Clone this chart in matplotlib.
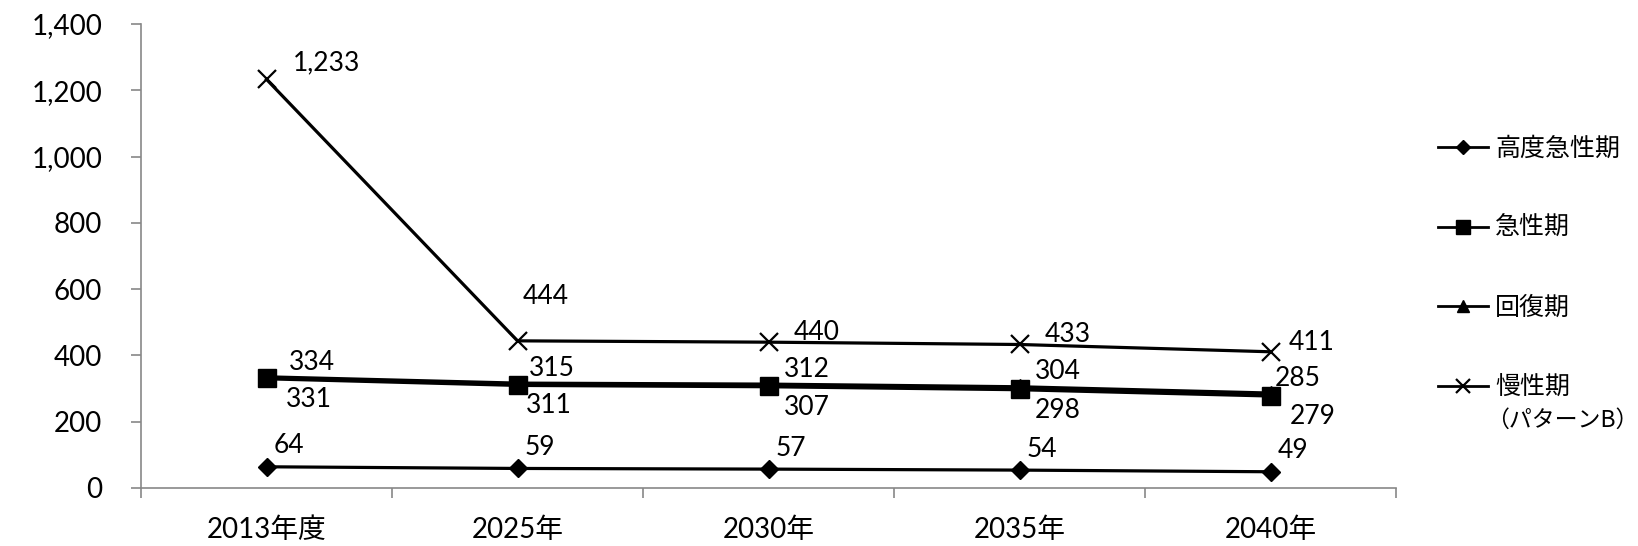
import numpy as np
import matplotlib
matplotlib.use("Agg")
import matplotlib.pyplot as plt

plt.rcParams['font.family'] = ['Lato', 'Noto Sans CJK JP', 'DejaVu Sans']

# data
categories = ["2013年度", "2025年", "2030年", "2035年", "2040年"]
koudo = [64, 59, 57, 54, 49]          # 高度急性期
kyusei = [331, 311, 307, 298, 279]    # 急性期
kaifuku = [334, 315, 312, 304, 285]   # 回復期
mansei = [1233, 444, 440, 433, 411]   # 慢性期（パターンB）
y_ticks = [0, 200, 400, 600, 800, 1000, 1200, 1400]

gray = "#878787"

fig = plt.figure(figsize=(16.38, 5.46), dpi=100)
ax = fig.add_axes([141 / 1638, 1 - 488 / 546, 1255 / 1638, 464 / 546])

x = np.arange(len(categories))

ax.plot(x, koudo, color="black", lw=2.3, marker="D", ms=9, zorder=3, label="高度急性期")
ax.plot(x, kaifuku, color="black", lw=3, marker="^", ms=11, zorder=3, label="回復期")
ax.plot(x, kyusei, color="black", lw=3, marker="s", ms=13, zorder=4, label="急性期")
ax.plot(x, mansei, color="black", lw=2.3, marker="x", ms=13, mew=1.6, zorder=3, label="慢性期")

# data labels, offsets in points
def put_labels(vals, dx, dy, fmt="{:,}"):
    for i, v in enumerate(vals):
        ox = dx[i] if isinstance(dx, list) else dx
        oy = dy[i] if isinstance(dy, list) else dy
        ax.annotate(fmt.format(v), (x[i], v), xytext=(ox, oy), textcoords="offset points",
                    ha="left", va="center", fontsize=19, zorder=6)

put_labels(koudo, 5, 15)
put_labels(kaifuku, [16, 8, 11, 11, 3], 11)
put_labels(kyusei, [14, 6, 11, 11, 14], -15)
put_labels(mansei, [19, 4, 18, 18, 13], [12, 32, 7, 7, 7])

ax.set_xlim(-0.5, len(categories) - 0.5)
ax.set_ylim(0, 1400)
ax.set_yticks(y_ticks)
ax.set_yticklabels([f"{t:,}" for t in y_ticks])
ax.set_xticks(x)
ax.set_xticklabels(categories)
ax.set_xticks(np.arange(len(categories) + 1) - 0.5, minor=True)

ax.tick_params(axis="y", direction="out", length=7, width=1.2, color=gray, pad=21, labelsize=20)
ax.tick_params(axis="x", which="major", length=0, pad=21, labelsize=20)
ax.tick_params(axis="x", which="minor", direction="out", length=7, width=1.2, color=gray)

for s in ["top", "right"]:
    ax.spines[s].set_visible(False)
for s in ["left", "bottom"]:
    ax.spines[s].set_color(gray)
    ax.spines[s].set_linewidth(1.2)

# legend order as in the reference
h, l = ax.get_legend_handles_labels()
order = [0, 2, 1, 3]
leg = ax.legend([h[i] for i in order], [l[i] for i in order],
                loc="upper left", bbox_to_anchor=(1425 / 1638, 1 - 123 / 546),
                bbox_transform=fig.transFigure, frameon=False,
                prop={"family": ["Noto Sans CJK JP"], "size": 18},
                labelspacing=2.15, handlelength=2.0, handletextpad=0.3, borderpad=0)
for lh in leg.legend_handles:
    lh.set_markersize(lh.get_markersize() * 0.8)
    lh.set_linewidth(2)
fig.text(1486 / 1638, 1 - 420 / 546, "（パターンB）", fontsize=16.5,
         family=["Noto Sans CJK JP"], va="center", ha="left")

fig.savefig("out.png", dpi=100)
